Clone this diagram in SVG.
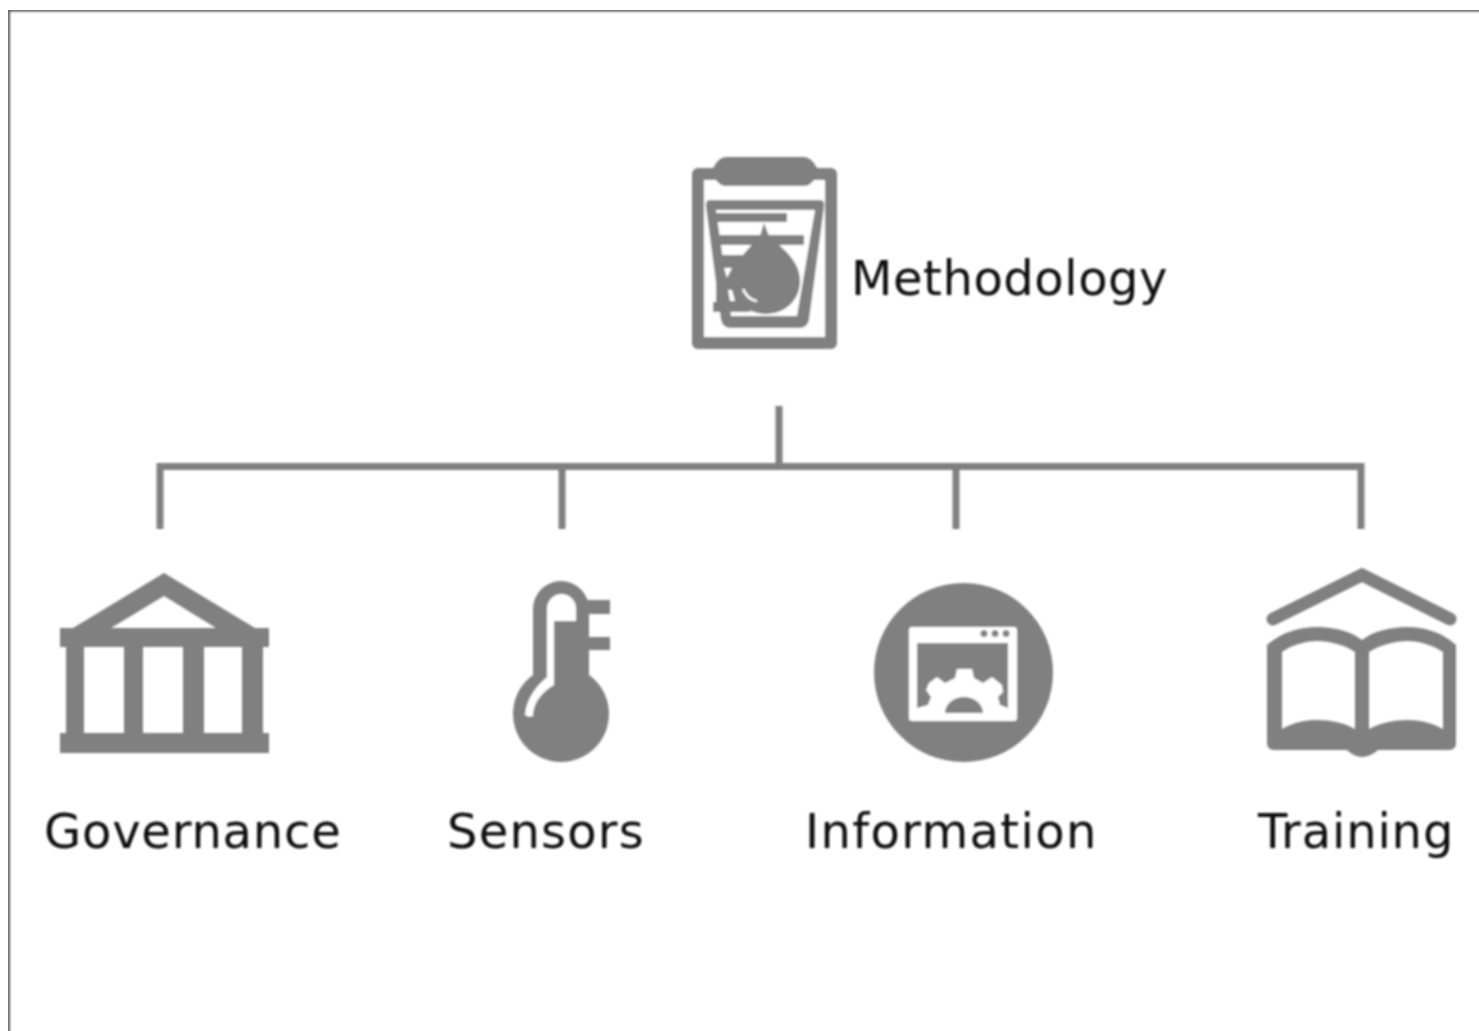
<svg xmlns="http://www.w3.org/2000/svg" width="1479" height="1031" viewBox="0 0 1479 1031">
<style>
.g{fill:#808080}
.w{fill:#fff}
.c{fill:none;stroke:#808080;stroke-width:7}
text{font-family:"DejaVu Sans",Verdana,sans-serif;font-size:48px;fill:#0a0a0a}
</style>
<defs><filter id="soft" x="0" y="0" width="100%" height="100%"><feGaussianBlur stdDeviation="0.9"/></filter></defs>
<rect width="1479" height="1031" fill="#fff"/>
<g filter="url(#soft)">
<path id="frame" d="M8.500,1040V10H1490" fill="none" stroke="#4f4f4f" stroke-width="2.800"/>
<g id="connectors">
<path class="c" d="M779,406V469M160,529V466.500H1361V529M562,466V529M956,466V529"/>
</g>
<g id="methodology">
<rect class="g" x="692" y="168" width="145" height="181" rx="6"/>
<rect class="w" x="704" y="180" width="121" height="157"/>
<path class="g" d="M726,157H804Q811,157 817,168V176Q811,186 804,186H726Q719,186 713,176V168Q719,157 726,157Z"/>
<path class="g" fill-rule="evenodd" d="M710,200H820Q825,200 824,207L809,320Q807,328 799,328H731Q723,328 721,320L706,207Q705,200 710,200ZM716,210L731,316H797L815,210Z"/>
<path class="g" d="M714,213H787V222H714ZM717,235H804V245H717ZM720,255H750V265H720ZM716,262H745V302H716ZM713,302H750V312H713Z"/>
<path class="g" d="M764,223L769,236C785,250 800,262 800,281C800,300 785,314 766,314C747,314 732,300 732,281C732,262 750,248 760,236Z"/>
<path class="w" d="M724,268L732,268L727,278ZM728,290L732,290L735,301L730,301Z"/>
<path d="M743,289Q748,300 757,301" fill="none" stroke="#fff" stroke-width="2.500"/>
<text x="851" y="295" letter-spacing="0.550">Methodology</text>
</g>
<g id="governance">
<path class="g" fill-rule="evenodd" d="M164,573L255,628H269V647H263V733H269V753H60V733H66V647H60V628H73ZM164,596L111,628H216ZM84,647V733H124V647ZM143,647V733H183V647ZM204,647V733H242V647Z"/>
<text x="44" y="848" letter-spacing="0.800">Governance</text>
</g>
<g id="sensors">
<path class="g" d="M533,609A28,28 0 0 1 589,609V675A48,48 0 1 1 533,675Z"/>
<rect class="g" x="585" y="600" width="25" height="14"/>
<rect class="g" x="585" y="637" width="25" height="13"/>
<path class="w" d="M547,677V608.500A14.500,14.500 0 0 1 576,608.500V621H554V685C542,692 533,703 533,716Q529,718 525,715C526,700 535,687 547,677Z"/>
<text x="447" y="848" letter-spacing="1.200">Sensors</text>
</g>
<g id="information">
<circle class="g" cx="963.500" cy="672.500" r="89.500"/>
<rect class="w" x="909" y="627" width="108" height="94" rx="3"/>
<rect class="g" x="917" y="643" width="91" height="65"/>
<circle class="g" cx="984" cy="633.500" r="3.500"/>
<circle class="g" cx="995" cy="633.500" r="3.500"/>
<circle class="g" cx="1006" cy="633.500" r="3.500"/>
<path class="w" d="M917,708L928,705L931,697L926,690L929,683L937,677L945,683L955,678L957,669H972L974,678L983,683L992,677L1002,685L1003,692L998,697L1000,705L1008,708V712H917Z"/>
<path class="g" d="M945,713A19,16 0 0 1 983,713Z"/>
<text x="805" y="848" letter-spacing="1.350">Information</text>
</g>
<g id="training">
<path d="M1273,619L1362,575L1450,619" fill="none" stroke="#808080" stroke-width="13" stroke-linecap="round" stroke-linejoin="miter"/>
<path class="g" fill-rule="evenodd" d="M1267,645C1282,632 1300,627 1317,627C1335,627 1352,632 1362,640C1372,632 1390,627 1407,627C1424,627 1442,632 1456,645V743Q1456,750 1449,750H1378Q1370,757 1362,757Q1354,757 1347,750H1274Q1267,750 1267,743ZM1282,652V729C1295,722 1305,720 1317,720C1330,720 1345,723 1355,729V652C1345,645 1330,641 1317,641C1305,641 1292,645 1282,652ZM1369,652V729C1380,723 1395,720 1407,720C1420,720 1432,723 1443,729V652C1432,645 1420,641 1407,641C1395,641 1380,645 1369,652Z"/>
<text x="1258" y="848" letter-spacing="0.850">Training</text>
</g>
</g>
</svg>
